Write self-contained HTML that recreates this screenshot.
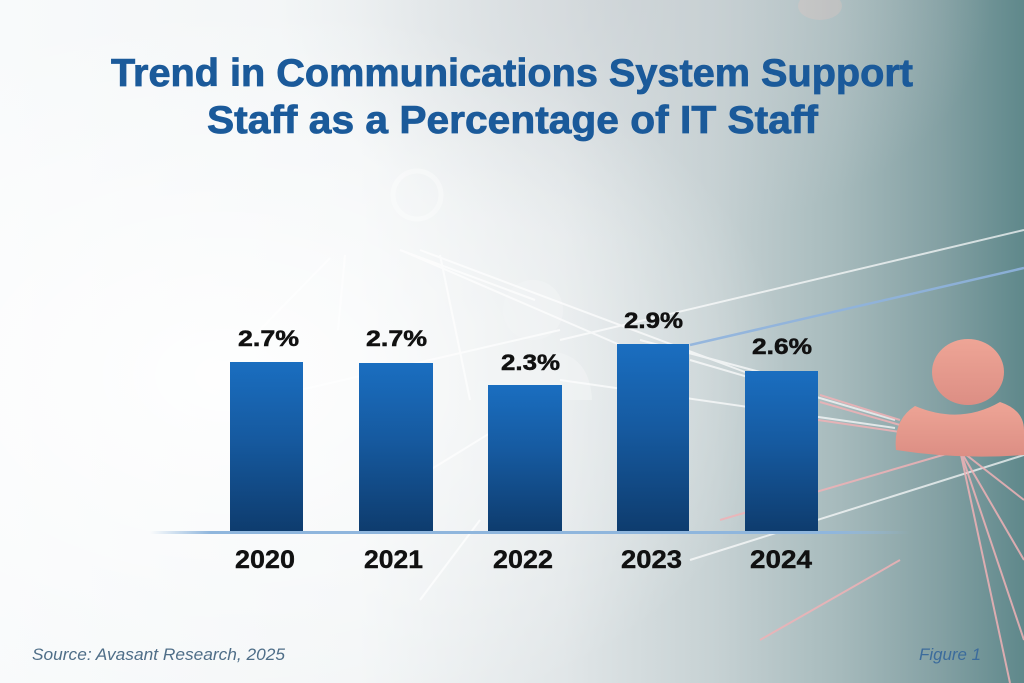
<!DOCTYPE html>
<html>
<head>
<meta charset="utf-8">
<style>
  html, body { margin:0; padding:0; }
  body { width:1024px; height:683px; overflow:hidden; background:#f4f6f8; }
  svg { display:block; }
</style>
</head>
<body>
<svg width="1024" height="683" viewBox="0 0 1024 683" xmlns="http://www.w3.org/2000/svg">
  <defs>
    <linearGradient id="bgH" x1="0" y1="0" x2="1" y2="0">
      <stop offset="0" stop-color="#f8fafb"/>
      <stop offset="0.35" stop-color="#f2f5f6"/>
      <stop offset="0.55" stop-color="#e1e6e8"/>
      <stop offset="0.70" stop-color="#c6d1d3"/>
      <stop offset="0.82" stop-color="#a6babc"/>
      <stop offset="0.92" stop-color="#83a0a3"/>
      <stop offset="1" stop-color="#5f888b"/>
    </linearGradient>
    <radialGradient id="glow" cx="0.22" cy="0.55" r="0.55">
      <stop offset="0" stop-color="#ffffff" stop-opacity="0.9"/>
      <stop offset="0.6" stop-color="#ffffff" stop-opacity="0.35"/>
      <stop offset="1" stop-color="#ffffff" stop-opacity="0"/>
    </radialGradient>
    <radialGradient id="topgrey" cx="0.62" cy="0" r="0.35">
      <stop offset="0" stop-color="#c9cfd3" stop-opacity="0.6"/>
      <stop offset="1" stop-color="#c9cfd3" stop-opacity="0"/>
    </radialGradient>
    <linearGradient id="bar" x1="0" y1="0" x2="0" y2="1">
      <stop offset="0" stop-color="#1a6ec0"/>
      <stop offset="0.45" stop-color="#165aa0"/>
      <stop offset="1" stop-color="#0e3c6e"/>
    </linearGradient>
    <linearGradient id="axis" x1="0" y1="0" x2="1" y2="0">
      <stop offset="0" stop-color="#8fb6dd" stop-opacity="0"/>
      <stop offset="0.08" stop-color="#8fb6dd" stop-opacity="1"/>
      <stop offset="0.9" stop-color="#8fb6dd" stop-opacity="1"/>
      <stop offset="1" stop-color="#8fb6dd" stop-opacity="0"/>
    </linearGradient>
    <linearGradient id="pink" x1="0" y1="0" x2="0" y2="1">
      <stop offset="0" stop-color="#eea596"/>
      <stop offset="1" stop-color="#dc8e84"/>
    </linearGradient>
  </defs>

  <!-- background -->
  <rect x="0" y="0" width="1024" height="683" fill="url(#bgH)"/>
  <rect x="0" y="0" width="1024" height="683" fill="url(#topgrey)"/>
  <rect x="0" y="0" width="1024" height="683" fill="url(#glow)"/>

  <!-- faint people -->
  <g opacity="0.35" fill="none" stroke="#ffffff" stroke-width="5">
    <circle cx="417" cy="195" r="24"/>
  </g>
  <g opacity="0.25" fill="#f0c8c0">
    <ellipse cx="820" cy="6" rx="22" ry="14"/>
  </g>
  <g opacity="0.55" fill="#f3f5f6">
    <circle cx="533" cy="310" r="30"/>
    <path d="M475 400 Q478 358 510 352 Q533 368 556 352 Q590 358 592 400 Z"/>
  </g>

  <!-- network lines -->
  <g stroke="#ffffff" stroke-width="2" opacity="0.7" fill="none">
    <line x1="400" y1="250" x2="535" y2="300"/>
    <line x1="405" y1="252" x2="620" y2="345"/>
    <line x1="420" y1="250" x2="745" y2="372"/>
    <line x1="345" y1="255" x2="338" y2="330"/>
    <line x1="330" y1="258" x2="250" y2="340"/>
    <line x1="440" y1="255" x2="470" y2="400"/>
    <line x1="300" y1="390" x2="560" y2="330"/>
    <line x1="560" y1="340" x2="1024" y2="230"/>
    <line x1="640" y1="340" x2="760" y2="372"/>
    <line x1="690" y1="360" x2="895" y2="420"/>
    <line x1="560" y1="380" x2="895" y2="428"/>
    <line x1="430" y1="470" x2="560" y2="390"/>
    <line x1="690" y1="560" x2="1024" y2="455"/>
    <line x1="420" y1="600" x2="480" y2="520"/>
  </g>
  <g stroke="#8fb3de" stroke-width="2.5" opacity="0.9">
    <line x1="690" y1="345" x2="1024" y2="268"/>
  </g>
  <g stroke="#f0b2b6" stroke-width="2" opacity="0.85">
    <line x1="820" y1="395" x2="900" y2="420"/>
    <line x1="820" y1="402" x2="900" y2="425"/>
    <line x1="818" y1="420" x2="900" y2="432"/>
    <line x1="720" y1="520" x2="960" y2="450"/>
    <line x1="960" y1="450" x2="1010" y2="683"/>
    <line x1="960" y1="450" x2="1024" y2="640"/>
    <line x1="960" y1="450" x2="1024" y2="560"/>
    <line x1="960" y1="450" x2="1024" y2="500"/>
    <line x1="760" y1="640" x2="900" y2="560"/>
  </g>

  <!-- pink person -->
  <g>
    <ellipse cx="968" cy="372" rx="36" ry="33" fill="url(#pink)"/>
    <path d="M896 450 Q893 420 915 406 Q960 425 1000 402 Q1024 410 1024 430 L1024 455 Q960 460 896 450 Z" fill="url(#pink)"/>
  </g>

  <!-- axis line -->
  <rect x="150" y="531" width="760" height="3" fill="url(#axis)"/>

  <!-- bars -->
  <rect x="230" y="362" width="73" height="169" fill="url(#bar)"/>
  <rect x="359" y="363" width="74" height="168" fill="url(#bar)"/>
  <rect x="488" y="385" width="74" height="146" fill="url(#bar)"/>
  <rect x="617" y="344" width="72" height="187" fill="url(#bar)"/>
  <rect x="745" y="371" width="73" height="160" fill="url(#bar)"/>

  <!-- value labels -->
  <g font-family="'Liberation Sans', sans-serif" font-weight="bold" font-size="22" fill="#111111" stroke="#111111" stroke-width="0.5">
    <text x="238" y="346" textLength="61" lengthAdjust="spacingAndGlyphs">2.7%</text>
    <text x="366" y="346" textLength="61" lengthAdjust="spacingAndGlyphs">2.7%</text>
    <text x="501" y="370" textLength="59" lengthAdjust="spacingAndGlyphs">2.3%</text>
    <text x="624" y="328" textLength="59" lengthAdjust="spacingAndGlyphs">2.9%</text>
    <text x="752" y="354" textLength="60" lengthAdjust="spacingAndGlyphs">2.6%</text>
  </g>

  <!-- year labels -->
  <g font-family="'Liberation Sans', sans-serif" font-weight="bold" font-size="25" fill="#111111" stroke="#111111" stroke-width="0.4">
    <text x="235" y="568" textLength="60" lengthAdjust="spacingAndGlyphs">2020</text>
    <text x="364" y="568" textLength="59" lengthAdjust="spacingAndGlyphs">2021</text>
    <text x="493" y="568" textLength="60" lengthAdjust="spacingAndGlyphs">2022</text>
    <text x="621" y="568" textLength="61" lengthAdjust="spacingAndGlyphs">2023</text>
    <text x="750" y="568" textLength="62" lengthAdjust="spacingAndGlyphs">2024</text>
  </g>

  <!-- title -->
  <g font-family="'Liberation Sans Narrow', 'Liberation Sans', sans-serif" font-weight="bold" font-size="39" fill="#1b5a9a" stroke="#1b5a9a" stroke-width="0.8">
    <text x="111" y="86" textLength="802" lengthAdjust="spacingAndGlyphs">Trend in Communications System Support</text>
    <text x="207" y="133" textLength="611" lengthAdjust="spacingAndGlyphs">Staff as a Percentage of IT Staff</text>
  </g>

  <!-- footer -->
  <text x="32" y="660" font-family="'Liberation Sans', sans-serif" font-style="italic" font-size="16.5" fill="#4f6e88" textLength="253" lengthAdjust="spacingAndGlyphs">Source: Avasant Research, 2025</text>
  <text x="919" y="660" font-family="'Liberation Sans', sans-serif" font-style="italic" font-size="16.5" fill="#3c6c9c" textLength="62" lengthAdjust="spacingAndGlyphs">Figure 1</text>
</svg>
</body>
</html>
